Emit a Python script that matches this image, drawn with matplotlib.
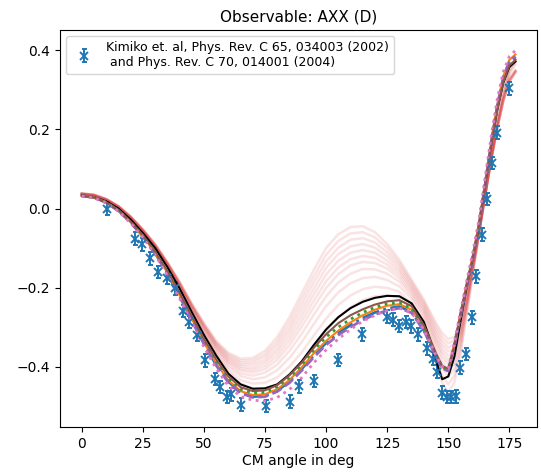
import matplotlib
matplotlib.use("Agg")
import matplotlib.pyplot as plt

# angle grid of the calculated curves (deg)
angles = [0, 5, 10, 15, 20, 25, 30, 35, 40, 45, 50, 55, 60, 65, 70, 75, 80, 85, 90, 95,
          100, 105, 110, 115, 120, 125, 130, 135, 140, 142.5, 145, 147.5, 150, 152.5,
          155, 157.5, 160, 162.5, 165, 167.5, 170, 172.5, 175, 177.5]

# black reference calculation
axx_black = [0.033, 0.029, 0.018, 0.000, -0.028, -0.062, -0.100, -0.148, -0.202, -0.262,
             -0.320, -0.372, -0.418, -0.445, -0.456, -0.455, -0.445, -0.420, -0.387, -0.345,
             -0.306, -0.275, -0.252, -0.236, -0.226, -0.221, -0.222, -0.240, -0.287, -0.330,
             -0.385, -0.432, -0.425, -0.375, -0.285, -0.200, -0.125, -0.045, 0.058, 0.158,
             0.248, 0.318, 0.358, 0.372]

# coloured calculations
axx_blue = [0.032, 0.028, 0.015, -0.005, -0.035, -0.070, -0.113, -0.164, -0.221, -0.282,
            -0.342, -0.396, -0.438, -0.465, -0.476, -0.474, -0.461, -0.438, -0.406, -0.371,
            -0.340, -0.315, -0.295, -0.277, -0.263, -0.253, -0.248, -0.262, -0.308, -0.340,
            -0.375, -0.404, -0.410, -0.348, -0.270, -0.196, -0.126, -0.046, 0.056, 0.162,
            0.256, 0.327, 0.368, 0.380]
axx_orange = [0.032, 0.028, 0.015, -0.005, -0.035, -0.070, -0.112, -0.162, -0.219, -0.279,
              -0.339, -0.392, -0.435, -0.462, -0.472, -0.470, -0.457, -0.434, -0.402, -0.366,
              -0.335, -0.309, -0.288, -0.270, -0.256, -0.246, -0.242, -0.256, -0.303, -0.336,
              -0.371, -0.401, -0.408, -0.345, -0.266, -0.192, -0.121, -0.040, 0.062, 0.168,
              0.262, 0.334, 0.376, 0.390]
axx_green = [0.032, 0.028, 0.015, -0.005, -0.034, -0.069, -0.111, -0.161, -0.217, -0.277,
             -0.336, -0.388, -0.430, -0.457, -0.467, -0.465, -0.451, -0.428, -0.395, -0.358,
             -0.325, -0.300, -0.280, -0.263, -0.250, -0.241, -0.238, -0.253, -0.300, -0.334,
             -0.370, -0.400, -0.407, -0.345, -0.268, -0.195, -0.124, -0.044, 0.058, 0.163,
             0.257, 0.328, 0.370, 0.384]
axx_purple = [0.032, 0.028, 0.015, -0.006, -0.036, -0.071, -0.114, -0.165, -0.222, -0.283,
              -0.343, -0.397, -0.440, -0.467, -0.478, -0.476, -0.463, -0.441, -0.410, -0.376,
              -0.345, -0.320, -0.300, -0.282, -0.268, -0.258, -0.252, -0.264, -0.309, -0.341,
              -0.376, -0.405, -0.411, -0.349, -0.272, -0.198, -0.127, -0.046, 0.056, 0.163,
              0.258, 0.330, 0.372, 0.385]
axx_brown = [0.032, 0.028, 0.015, -0.004, -0.033, -0.068, -0.109, -0.158, -0.213, -0.272,
             -0.330, -0.382, -0.425, -0.452, -0.462, -0.460, -0.447, -0.422, -0.390, -0.352,
             -0.318, -0.290, -0.270, -0.255, -0.243, -0.235, -0.232, -0.247, -0.295, -0.330,
             -0.367, -0.398, -0.406, -0.346, -0.268, -0.196, -0.126, -0.046, 0.055, 0.158,
             0.250, 0.320, 0.362, 0.376]
axx_pink = [0.031, 0.027, 0.014, -0.007, -0.037, -0.073, -0.117, -0.169, -0.227, -0.289,
            -0.350, -0.405, -0.449, -0.476, -0.485, -0.487, -0.478, -0.458, -0.428, -0.390,
            -0.358, -0.330, -0.306, -0.285, -0.270, -0.258, -0.252, -0.264, -0.307, -0.338,
            -0.372, -0.400, -0.405, -0.340, -0.260, -0.185, -0.112, -0.030, 0.075, 0.180,
            0.275, 0.345, 0.385, 0.400]

# light red spread of calculations
spread_1 = [0.036, 0.032, 0.021, 0.003, -0.025, -0.059, -0.098, -0.146, -0.200, -0.260,
            -0.318, -0.370, -0.415, -0.443, -0.455, -0.455, -0.445, -0.422, -0.390, -0.350,
            -0.310, -0.275, -0.250, -0.232, -0.222, -0.220, -0.225, -0.250, -0.300, -0.345,
            -0.395, -0.440, -0.465, -0.440, -0.370, -0.270, -0.170, -0.070, 0.030, 0.125,
            0.210, 0.280, 0.330, 0.350]
spread_2 = [0.036, 0.032, 0.021, 0.003, -0.024, -0.058, -0.097, -0.144, -0.198, -0.257,
            -0.314, -0.365, -0.408, -0.434, -0.443, -0.441, -0.427, -0.400, -0.364, -0.321,
            -0.279, -0.244, -0.220, -0.204, -0.198, -0.201, -0.211, -0.240, -0.290, -0.332,
            -0.379, -0.421, -0.445, -0.423, -0.358, -0.263, -0.166, -0.069, 0.030, 0.128,
            0.220, 0.295, 0.350, 0.375]
spread_3 = [0.037, 0.033, 0.022, 0.004, -0.024, -0.057, -0.096, -0.143, -0.196, -0.254,
            -0.310, -0.360, -0.400, -0.424, -0.432, -0.427, -0.409, -0.378, -0.338, -0.292,
            -0.247, -0.212, -0.189, -0.176, -0.173, -0.181, -0.197, -0.229, -0.279, -0.320,
            -0.364, -0.403, -0.425, -0.406, -0.346, -0.255, -0.161, -0.067, 0.030, 0.124,
            0.207, 0.277, 0.327, 0.349]
spread_4 = [0.037, 0.033, 0.022, 0.004, -0.023, -0.056, -0.095, -0.141, -0.194, -0.252,
            -0.306, -0.355, -0.394, -0.417, -0.423, -0.415, -0.395, -0.360, -0.317, -0.268,
            -0.222, -0.187, -0.165, -0.153, -0.154, -0.165, -0.185, -0.221, -0.271, -0.309,
            -0.351, -0.388, -0.408, -0.392, -0.336, -0.249, -0.157, -0.066, 0.030, 0.130,
            0.225, 0.300, 0.355, 0.380]
spread_5 = [0.037, 0.034, 0.023, 0.005, -0.022, -0.056, -0.094, -0.140, -0.192, -0.250,
            -0.303, -0.352, -0.389, -0.410, -0.415, -0.406, -0.383, -0.346, -0.299, -0.249,
            -0.201, -0.166, -0.144, -0.135, -0.138, -0.152, -0.176, -0.214, -0.264, -0.301,
            -0.340, -0.375, -0.395, -0.380, -0.328, -0.244, -0.154, -0.065, 0.030, 0.122,
            0.205, 0.275, 0.325, 0.347]
spread_6 = [0.037, 0.034, 0.023, 0.005, -0.022, -0.055, -0.093, -0.139, -0.191, -0.248,
            -0.301, -0.349, -0.385, -0.405, -0.409, -0.398, -0.373, -0.334, -0.285, -0.233,
            -0.184, -0.149, -0.128, -0.120, -0.125, -0.142, -0.168, -0.208, -0.258, -0.294,
            -0.332, -0.365, -0.384, -0.371, -0.322, -0.240, -0.152, -0.064, 0.030, 0.122,
            0.210, 0.285, 0.340, 0.365]
spread_7 = [0.037, 0.034, 0.023, 0.005, -0.022, -0.055, -0.093, -0.139, -0.190, -0.246,
            -0.299, -0.346, -0.381, -0.400, -0.403, -0.390, -0.363, -0.322, -0.271, -0.217,
            -0.167, -0.132, -0.112, -0.105, -0.112, -0.132, -0.160, -0.202, -0.252, -0.287,
            -0.324, -0.355, -0.373, -0.362, -0.316, -0.236, -0.150, -0.063, 0.030, 0.122,
            0.203, 0.273, 0.323, 0.347]
spread_8 = [0.038, 0.034, 0.023, 0.005, -0.021, -0.054, -0.092, -0.138, -0.189, -0.245,
            -0.297, -0.343, -0.377, -0.395, -0.396, -0.383, -0.354, -0.310, -0.257, -0.202,
            -0.150, -0.115, -0.096, -0.090, -0.099, -0.121, -0.153, -0.197, -0.247, -0.280,
            -0.315, -0.345, -0.362, -0.353, -0.309, -0.232, -0.147, -0.062, 0.030, 0.121,
            0.202, 0.272, 0.322, 0.346]
spread_9 = [0.038, 0.035, 0.024, 0.006, -0.021, -0.054, -0.091, -0.137, -0.187, -0.243,
            -0.294, -0.341, -0.373, -0.390, -0.390, -0.375, -0.344, -0.299, -0.243, -0.186,
            -0.134, -0.099, -0.079, -0.075, -0.086, -0.111, -0.145, -0.191, -0.241, -0.274,
            -0.307, -0.335, -0.352, -0.343, -0.303, -0.228, -0.145, -0.062, 0.030, 0.124,
            0.210, 0.285, 0.345, 0.370]
spread_10 = [0.038, 0.035, 0.024, 0.006, -0.020, -0.053, -0.091, -0.136, -0.186, -0.242,
             -0.292, -0.338, -0.369, -0.385, -0.384, -0.368, -0.335, -0.287, -0.229, -0.171,
             -0.117, -0.082, -0.063, -0.060, -0.073, -0.100, -0.138, -0.186, -0.236, -0.267,
             -0.298, -0.325, -0.341, -0.334, -0.296, -0.224, -0.142, -0.061, 0.030, 0.120,
             0.201, 0.271, 0.321, 0.345]
spread_11 = [0.038, 0.035, 0.024, 0.006, -0.020, -0.053, -0.090, -0.135, -0.185, -0.240,
             -0.290, -0.335, -0.365, -0.380, -0.378, -0.360, -0.325, -0.275, -0.215, -0.155,
             -0.100, -0.065, -0.047, -0.045, -0.060, -0.090, -0.130, -0.180, -0.230, -0.260,
             -0.290, -0.315, -0.330, -0.325, -0.290, -0.220, -0.140, -0.060, 0.030, 0.120,
             0.200, 0.270, 0.320, 0.345]

# measured AXX (Kimiko et al.)
exp_angle = [10.5, 21.9, 24.7, 27.9, 31.2, 34.8, 38.1, 41.3, 43.7, 47.0,
             50.6, 54.7, 56.4, 59.3, 61.2, 65.2, 75.3, 85.4, 88.8, 95.1,
             104.9, 114.8, 125.0, 127.5, 130.0, 132.7, 134.7, 137.7, 141.2, 143.7,
             145.2, 147.4, 149.6, 151.2, 153.0, 155.0, 157.3, 159.6, 161.4, 163.7,
             165.9, 168.0, 169.9, 174.7]
exp_axx = [0.000, -0.076, -0.091, -0.126, -0.161, -0.176, -0.202, -0.259, -0.287, -0.320,
           -0.384, -0.431, -0.452, -0.477, -0.470, -0.496, -0.500, -0.489, -0.450, -0.436,
           -0.383, -0.318, -0.274, -0.281, -0.297, -0.287, -0.298, -0.318, -0.354, -0.380,
           -0.413, -0.466, -0.477, -0.477, -0.475, -0.403, -0.368, -0.275, -0.172, -0.066,
           0.024, 0.115, 0.192, 0.304]
exp_err = [0.016] * len(exp_axx)

spreads = [spread_1, spread_2, spread_3, spread_4, spread_5, spread_6,
           spread_7, spread_8, spread_9, spread_10, spread_11]

fig = plt.figure(figsize=(5.41, 4.74), dpi=100)
ax = fig.add_axes([0.111, 0.099, 0.882, 0.838])

for s in spreads:
    ax.plot(angles, s, color='tab:red', alpha=0.13, lw=1.8)

ax.errorbar(exp_angle, exp_axx, yerr=exp_err, fmt='x', color='tab:blue',
            capsize=1.8, ms=6, mew=1.4, elinewidth=1.4,
            label='Kimiko et. al, Phys. Rev. C 65, 034003 (2002)\n and Phys. Rev. C 70, 014001 (2004)')

ax.plot(angles, axx_black, color='black', lw=1.5)
ax.plot(angles, axx_blue, color='tab:blue', ls='-.', lw=2)
ax.plot(angles, axx_orange, color='tab:orange', ls='-', lw=1.5)
ax.plot(angles, axx_green, color='tab:green', ls=':', lw=2)
ax.plot(angles, axx_purple, color='tab:purple', ls='--', lw=2)
ax.plot(angles, axx_brown, color='tab:brown', ls='-', lw=1.5)
ax.plot(angles, axx_pink, color='tab:pink', ls=':', lw=2)

ax.set_xlim(-8.9, 186.4)
ax.set_ylim(-0.553, 0.452)
ax.set_xticks([0, 25, 50, 75, 100, 125, 150, 175])
ax.set_yticks([-0.4, -0.2, 0.0, 0.2, 0.4])
ax.set_xlabel('CM angle in deg', labelpad=2)
ax.set_title('Observable: AXX (D)', fontsize=11)
ax.legend(loc='upper left', fontsize=9)

fig.savefig('out.png', dpi=100)
